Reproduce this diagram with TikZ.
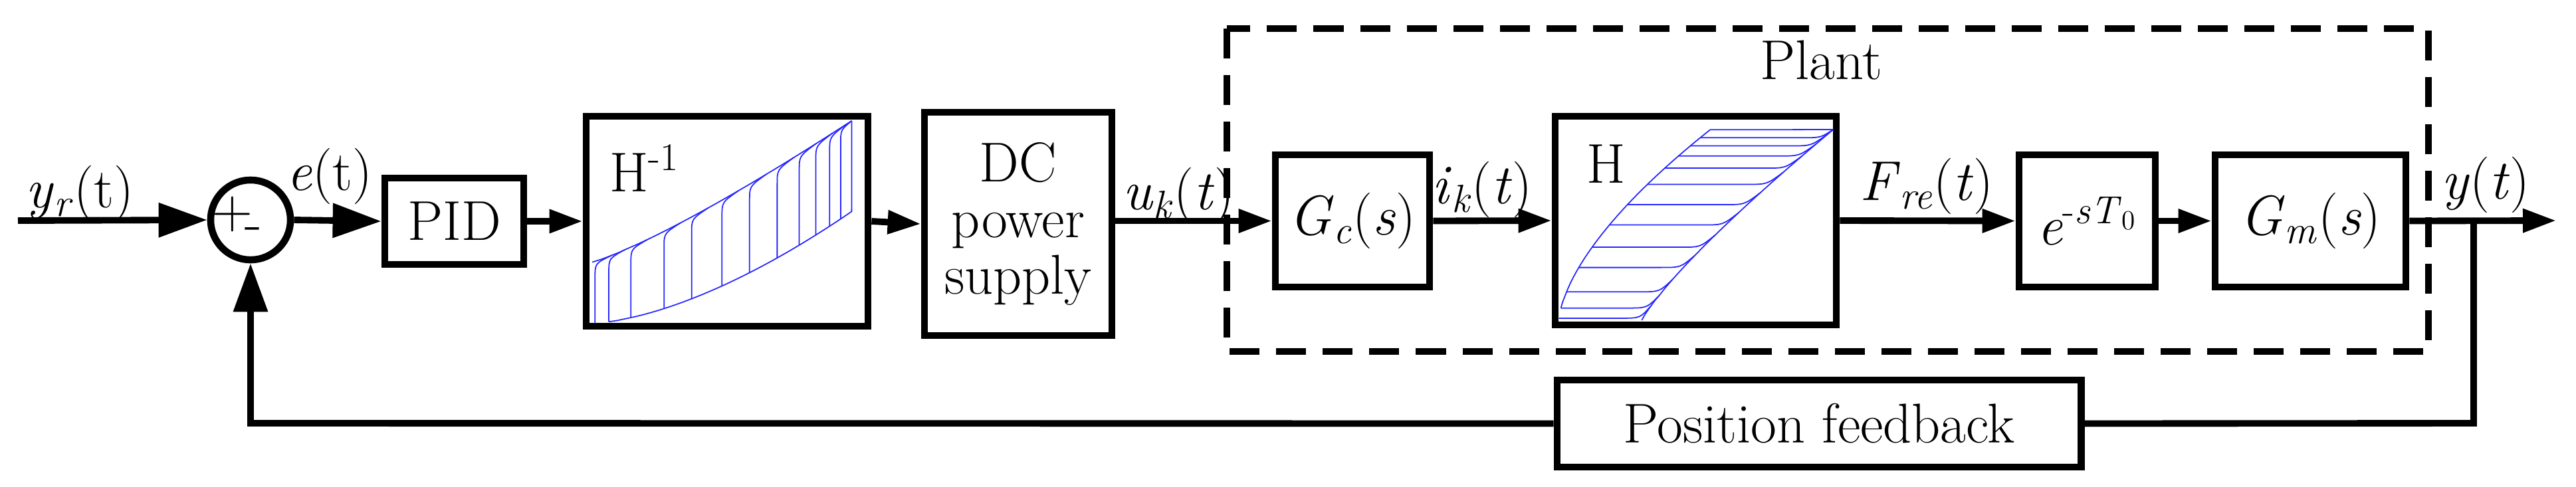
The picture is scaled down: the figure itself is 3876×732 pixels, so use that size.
\documentclass[tikz,border=0pt]{standalone}
\usepackage{fontspec}
\usetikzlibrary{arrows.meta}
\begin{document}
\begin{tikzpicture}[x=0.01cm,y=-0.01cm,
  blk/.style={draw,line width=3pt,inner sep=0pt},
  sig/.style={line width=2.8pt},
  big/.style={sig,-{Triangle[length=0.73cm,width=0.5cm]}},
  sml/.style={sig,-{Triangle[length=0.5cm,width=0.34cm]}},
  lbl/.style={font=\fontsize{24}{28}\selectfont},
  hys/.style={blue!85,line width=0.5pt}]
\useasboundingbox (0,0) rectangle (3876,732);
% blocks
\node[draw,line width=3pt,circle,minimum size=1.2cm,inner sep=0pt] (sum) at (377,331) {};
\node[lbl] at (350,322) {+};
\node[lbl] at (381,352) {-};
\node[blk,minimum width=2.09cm,minimum height=1.30cm,lbl] (pid) at (683.5,333) {PID};
\node[blk,minimum width=4.24cm,minimum height=3.16cm] (hinv) at (1094,333) {};
\node[blk,minimum width=2.82cm,minimum height=3.36cm,lbl,align=center] (dc) at (1532,337) {DC\\[-4pt]power\\[-4pt]supply};
\node[blk,minimum width=2.32cm,minimum height=1.99cm,lbl] (gc) at (2035,332.5) {\textit{G}\textsubscript{\textit{c}}(\textit{s})};
\node[blk,minimum width=4.23cm,minimum height=3.14cm] (h) at (2551.5,332) {};
\node[blk,minimum width=2.05cm,minimum height=1.99cm,lbl] (ed) at (3140.5,332.5) {\textit{e}\textsuperscript{-\textit{sT}\textsubscript{0}}};
\node[blk,minimum width=2.87cm,minimum height=1.99cm,lbl] (gm) at (3476.5,332.5) {\textit{G}\textsubscript{\textit{m}}(\textit{s})};
\node[blk,minimum width=7.88cm,minimum height=1.31cm,lbl] (pf) at (2737,637.5) {Position feedback};
\draw[line width=3pt,dash pattern=on 0.45cm off 0.25cm] (1846,43) rectangle (3654,529);
\node[lbl] at (2740,91) {Plant};
\node[lbl,anchor=north west] at (905,205) {H\textsuperscript{-1}};
\node[lbl,anchor=north west] at (2375,205) {H};
% labels
\node[lbl] at (120,291) {\textit{y}\textsubscript{\textit{r}}(t)};
\node[lbl] at (496,265) {\textit{e}(t)};
\node[lbl] at (1773,294) {\textit{u}\textsubscript{\textit{k}}(\textit{t})};
\node[lbl] at (2230,285) {\textit{i}\textsubscript{\textit{k}}(\textit{t})};
\node[lbl] at (2899,280) {\textit{F}\textsubscript{\textit{re}}(\textit{t})};
\node[lbl] at (3740,278) {\textit{y}(\textit{t})};
% connectors
\coordinate (in) at (27,332);
\coordinate (out) at (3846,332);
\coordinate (br) at (3722,332);
\coordinate (bd) at (3722,637);
\coordinate (fl) at (377,637);
\draw[big] (in) -- (sum.west);
\draw[big] (sum.east) -- (pid.west);
\draw[sml] (pid.east) -- (hinv.west);
\draw[sml] (hinv.east) -- (dc.west);
\draw[sml] (dc.east |- gc.west) -- (gc.west);
\draw[sml] (gc.east) -- (h.west);
\draw[sml] (h.east) -- (ed.west);
\draw[sml] (ed.east) -- (gm.west);
\draw[sml] (gm.east) -- (out);
\draw[sig] (br) -- (bd) -- (pf.east);
\draw[big] (pf.west) -- (fl) -- (sum.south);
% H curves
\begin{scope}[shift={(2345,485)},x={(4.13cm,0)},y={(0,3.05cm)}]
\draw[hys] plot[domain=0.07:0.95,variable=\v,samples=30] ({0.6*\v^1.6},\v) -- (1,0.95);
\draw[hys] plot[domain=0.01:0.95,variable=\v,samples=30] ({0.3+0.7*(\v/0.95)^1.2},\v);
\foreach \v in {0.02,0.07,0.15,0.27,0.37,0.48,0.58,0.68,0.76,0.82,0.87,0.91} {
  \pgfmathsetmacro\ul{0.6*\v^1.6}
  \pgfmathsetmacro\ur{0.3+0.7*(\v/0.95)^1.2}
  \pgfmathsetmacro\w{min(\v+0.06,0.95)}
  \pgfmathsetmacro\uw{0.3+0.7*(\w/0.95)^1.2}
  \draw[hys] (\ul,\v) -- ({\ur-0.08},\v) .. controls ({\ur-0.01},\v) .. (\uw,\w);
}
\end{scope}
% H^-1 curves (transposed)
\begin{scope}[shift={(887,487)},x={(4.15cm,0)},y={(0,3.05cm)}]
\draw[hys] plot[domain=0.07:0.95,variable=\v,samples=30] (\v,{0.6*\v^1.6}) -- (0.95,1);
\draw[hys] plot[domain=0.01:0.95,variable=\v,samples=30] (\v,{0.3+0.7*(\v/0.95)^1.2});
\foreach \v in {0.02,0.07,0.15,0.27,0.37,0.48,0.58,0.68,0.76,0.82,0.87,0.91} {
  \pgfmathsetmacro\ul{0.6*\v^1.6}
  \pgfmathsetmacro\ur{0.3+0.7*(\v/0.95)^1.2}
  \pgfmathsetmacro\w{min(\v+0.06,0.95)}
  \pgfmathsetmacro\uw{0.3+0.7*(\w/0.95)^1.2}
  \draw[hys] (\v,\ul) -- (\v,{\ur-0.08}) .. controls (\v,{\ur-0.01}) .. (\w,\uw);
}
\end{scope}
\end{tikzpicture}
\end{document}
